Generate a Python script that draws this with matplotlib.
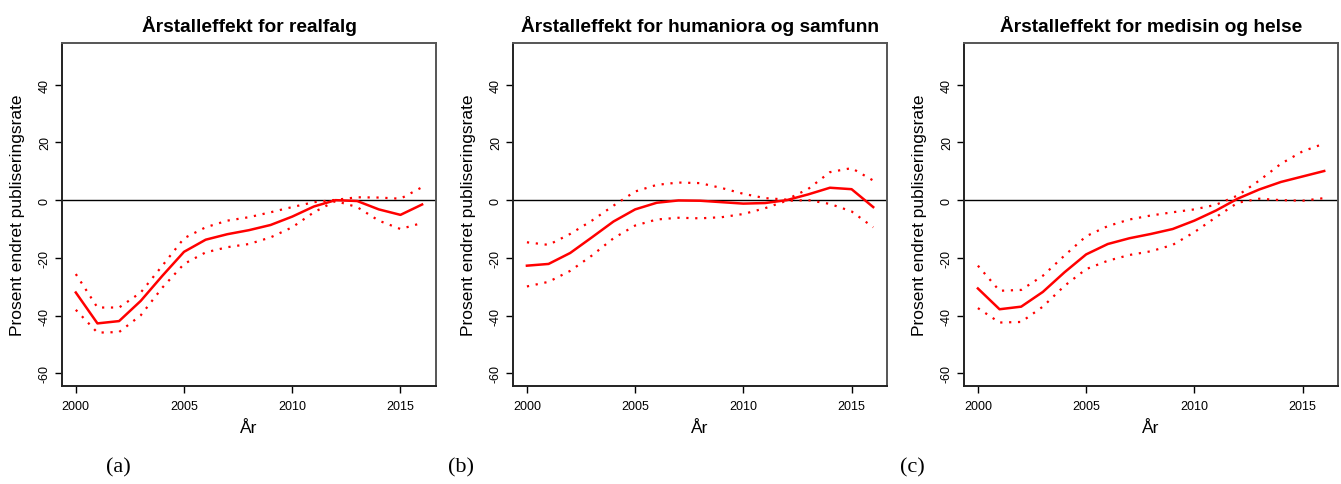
import matplotlib.pyplot as plt

years = list(range(2000, 2017))

# realfag
real_est = [-32.0, -42.7, -41.9, -34.9, -26.2, -17.9, -13.7, -11.8, -10.4, -8.6, -5.7, -2.2, 0.0, -0.3, -3.2, -5.1, -1.5]
real_hi = [-25.6, -37.2, -37.2, -32.0, -22.7, -13.2, -9.4, -7.1, -5.9, -4.2, -2.4, -0.7, 0.1, 1.0, 0.9, 0.5, 4.5]
real_lo = [-38.0, -45.9, -45.7, -39.9, -30.3, -22.1, -18.1, -16.3, -15.2, -12.9, -9.4, -4.2, -0.3, -2.4, -7.1, -10.0, -7.9]

# humaniora og samfunn
hum_est = [-22.7, -22.1, -18.3, -12.9, -7.4, -3.2, -0.9, -0.1, -0.2, -0.7, -1.2, -1.0, 0.0, 2.0, 4.3, 3.8, -2.4]
hum_hi = [-14.6, -15.5, -11.7, -7.1, -1.9, 3.0, 5.3, 6.1, 5.9, 4.2, 2.2, 0.7, 0.2, 3.9, 9.7, 11.1, 6.8]
hum_lo = [-29.9, -28.3, -24.5, -19.2, -13.2, -8.8, -6.7, -6.1, -6.3, -5.9, -4.8, -2.8, -0.2, 0.0, -1.3, -3.9, -9.4]

# medisin og helse
med_est = [-30.6, -37.8, -36.9, -31.8, -25.0, -18.8, -15.2, -13.2, -11.7, -10.0, -7.1, -3.6, 0.5, 3.7, 6.3, 8.2, 10.1]
med_hi = [-22.7, -31.4, -31.1, -26.2, -19.2, -12.5, -9.0, -6.7, -5.3, -4.2, -3.2, -1.6, 1.6, 6.8, 12.6, 16.9, 19.6]
med_lo = [-37.4, -42.4, -42.2, -36.9, -29.7, -23.9, -21.0, -19.0, -17.7, -15.5, -11.1, -5.9, -0.9, 0.5, 0.0, -0.2, 0.7]

titles = ["Årstalleffekt for realfalg",
          "Årstalleffekt for humaniora og samfunn",
          "Årstalleffekt for medisin og helse"]
panel_tags = ["(a)", "(b)", "(c)"]
x_ticks = [2000, 2005, 2010, 2015]
y_ticks = [-60, -40, -20, 0, 20, 40]

panels = [(real_est, real_hi, real_lo),
          (hum_est, hum_hi, hum_lo),
          (med_est, med_hi, med_lo)]

plt.rcParams["font.family"] = ["Liberation Sans", "DejaVu Sans"]

fig = plt.figure(figsize=(13.41, 4.85), dpi=100)
lefts = [0.0462, 0.3826, 0.7189]
tag_x = [0.088, 0.344, 0.680]

for i, (est, hi, lo) in enumerate(panels):
    ax = fig.add_axes([lefts[i], 0.202, 0.2789, 0.707])
    ax.axhline(0, color="black", lw=1.0, zorder=1)
    ax.plot(years, est, color="#ff0000", lw=1.8, zorder=3)
    for band in (hi, lo):
        ax.plot(years, band, color="#ff0000", lw=1.6,
                linestyle=(0, (1, 3)), dash_capstyle="butt", zorder=2)

    ax.set_xlim(1999.36, 2016.64)
    ax.set_ylim(-64.4, 54.4)
    ax.set_xticks(x_ticks)
    ax.set_yticks(y_ticks)
    ax.set_yticklabels([str(v) for v in y_ticks], rotation=90, va="center")
    ax.tick_params(direction="out", length=5, width=1, labelsize=9, colors="black")
    ax.tick_params(axis="y", pad=3)
    ax.tick_params(axis="x", pad=5)

    for side in ("top", "right"):
        ax.spines[side].set_color("#555555")
        ax.spines[side].set_linewidth(1.4)
    for side in ("left", "bottom"):
        ax.spines[side].set_color("#222222")
        ax.spines[side].set_linewidth(1.4)

    ax.set_title(titles[i], fontsize=13.8, fontweight="bold", pad=9)
    ax.set_xlabel("År", fontsize=12.5, labelpad=6)
    ax.set_ylabel("Prosent endret publiseringsrate", fontsize=12.5, labelpad=10)

    fig.text(tag_x[i], 0.025, panel_tags[i], fontsize=16,
             family=["Liberation Serif", "DejaVu Serif"], ha="center")

fig.savefig("out.png", dpi=100)
